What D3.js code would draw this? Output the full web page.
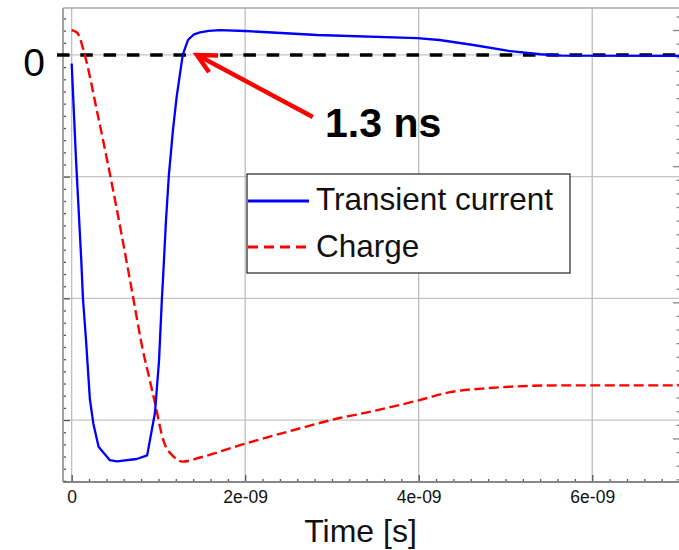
<!DOCTYPE html>
<html><head><meta charset="utf-8">
<script src="https://cdn.jsdelivr.net/npm/d3@7/dist/d3.min.js"></script>
<style>body{margin:0;background:#fff}svg{display:block}</style>
</head><body><svg id="c" width="679" height="550"></svg>
<script>
// ---- data (time in ns, values in arbitrary units) ----
const currentTime  = [0.00,0.05,0.11,0.13,0.165,0.21,0.25,0.31,0.44,0.52,0.75,0.87,0.96,1.007,1.04,1.052,1.087,1.12,1.167,1.21,1.28,1.34,1.41,1.48,1.58,1.71,2.0,2.83,3.98,4.24,4.63,5.02,5.40,5.65,7.0];
const currentValue = [-0.07,-0.86,-1.68,-2.00,-2.34,-2.83,-3.03,-3.22,-3.33,-3.34,-3.32,-3.29,-2.94,-2.51,-2.0,-1.85,-1.36,-0.99,-0.62,-0.345,0.0,0.123,0.17,0.185,0.198,0.205,0.197,0.164,0.138,0.123,0.082,0.035,0.006,-0.006,-0.008];
const chargeTime   = [0,0.03,0.07,0.15,0.29,0.41,0.50,0.65,0.71,0.82,0.90,0.96,1.06,1.17,1.28,1.48,1.99,2.55,3.09,3.32,4.0,4.36,4.82,5.63,7.0];
const chargeValue  = [0,-0.007,-0.025,-0.18,-0.59,-0.96,-1.25,-1.76,-1.97,-2.35,-2.57,-2.74,-3.02,-3.13,-3.17,-3.14,-3.04,-2.94,-2.85,-2.82,-2.72,-2.66,-2.63,-2.61,-2.61];
const xTickValues = [0,2,4,6];
const xTickLabels = ["0","2e-09","4e-09","6e-09"];
const yTickValues = [0,-1,-2,-3];
const yTickLabels = ["0","","",""];
const yRightTickValues = [0,-1,-2,-3];
const seriesNames = ["Transient current","Charge"];
const seriesColors = ["#0000ff","#ff0000"];
const xTitle = "Time [s]";
const annotationText = "1.3 ns";
const arrowTip = [1.445, 0];
const arrowTail = [2.78, -0.51];
const annotationPos = [2.92, -0.674];

// ---- layout ----
const svg = d3.select("#c");
const L=63, R=679, T=8, B=482;
const x  = d3.scaleLinear().domain([-0.1,7]).range([L,R]);
const yL = d3.scaleLinear().domain([-3.509,0.386]).range([B,T]);
const yR = d3.scaleLinear().domain([-3.32,0.162]).range([B,T]);
const FONT = "'Liberation Sans', Arial, Helvetica, sans-serif";

svg.append("rect").attr("width",679).attr("height",550).attr("fill","#fff");
svg.append("clipPath").attr("id","plot").append("rect")
  .attr("x",L).attr("y",T).attr("width",R-L).attr("height",B-T);

// grid
const grid = svg.append("g");
grid.selectAll("line.h").data(yTickValues).join("line")
  .attr("x1",L).attr("x2",R).attr("y1",d=>yL(d)).attr("y2",d=>yL(d))
  .attr("stroke","#c4c4c4").attr("stroke-width",1.3);
grid.selectAll("line.v").data(xTickValues).join("line")
  .attr("y1",T).attr("y2",B).attr("x1",d=>x(d)).attr("x2",d=>x(d))
  .attr("stroke","#bdbdbd").attr("stroke-width",1.3);

// frame lines
svg.append("line").attr("x1",L).attr("x2",R).attr("y1",T).attr("y2",T)
  .attr("stroke","#aaaaaa").attr("stroke-width",1.5);

// bottom axis
const minorX = d3.range(0, 7.01, 0.2).filter(v=>xTickValues.indexOf(Math.round(v*10)/10)<0);
const gxMinor = svg.append("g").attr("transform",`translate(0,${B})`)
  .call(d3.axisBottom(x).tickValues(minorX).tickSize(-3).tickFormat(""));
const gx = svg.append("g").attr("transform",`translate(0,${B})`)
  .call(d3.axisBottom(x).tickValues(xTickValues).tickSize(-7).tickPadding(8.6)
        .tickFormat((d,i)=>xTickLabels[i]));
[gxMinor,gx].forEach(g=>{
  g.select(".domain").remove();
  g.selectAll(".tick line").attr("stroke","#555").attr("stroke-width",1.3);
});
gx.selectAll("text").attr("font-family",FONT).attr("font-size",17.5).attr("fill","#111");
svg.append("line").attr("x1",L).attr("x2",R).attr("y1",B).attr("y2",B)
  .attr("stroke","#888").attr("stroke-width",1.8);

// left axis
const minorY = d3.range(-35,4).map(v=>v/10).filter(v=>Math.abs(v-Math.round(v))>1e-6);
const gyMinor = svg.append("g").attr("transform",`translate(${L},0)`)
  .call(d3.axisLeft(yL).tickValues(minorY).tickSize(-3).tickFormat(""));
const gy = svg.append("g").attr("transform",`translate(${L},0)`)
  .call(d3.axisLeft(yL).tickValues(yTickValues).tickSize(-7).tickPadding(18)
        .tickFormat((d,i)=>yTickLabels[i]));
[gyMinor,gy].forEach(g=>{
  g.select(".domain").remove();
  g.selectAll(".tick line").attr("stroke","#555").attr("stroke-width",1.3);
});
gy.selectAll("text").attr("font-family",FONT).attr("font-size",39).attr("dy","0.52em").attr("fill","#000");
svg.append("line").attr("x1",L).attr("x2",L).attr("y1",T).attr("y2",B)
  .attr("stroke","#999").attr("stroke-width",1.8);

// right axis (charge)
const minorYR = d3.range(-33,2).map(v=>v/10).filter(v=>Math.abs(v-Math.round(v))>1e-6);
const gr1 = svg.append("g").attr("transform",`translate(${R},0)`)
  .call(d3.axisRight(yR).tickValues(minorYR).tickSize(-2.5).tickFormat(""));
const gr2 = svg.append("g").attr("transform",`translate(${R},0)`)
  .call(d3.axisRight(yR).tickValues(yRightTickValues).tickSize(-6).tickFormat(""));
[gr1,gr2].forEach(g=>{
  g.select(".domain").remove();
  g.selectAll(".tick line").attr("stroke","#888").attr("stroke-width",1.3);
});

// zero reference line
svg.append("line")
  .attr("x1",L-6).attr("x2",R).attr("y1",yL(0)).attr("y2",yL(0))
  .attr("stroke","#000").attr("stroke-width",3.5).attr("stroke-dasharray","12.5,10.8");

// series
const plot = svg.append("g").attr("clip-path","url(#plot)");
const lineCurrent = d3.line().x((d,i)=>x(currentTime[i])).y(d=>yL(d));
const lineCharge  = d3.line().x((d,i)=>x(chargeTime[i])).y(d=>yR(d)).curve(d3.curveMonotoneX);
plot.append("path").attr("d",lineCharge(chargeValue)).attr("fill","none")
  .attr("stroke",seriesColors[1]).attr("stroke-width",2.4).attr("stroke-dasharray","10,4.5");
plot.append("path").attr("d",lineCurrent(currentValue)).attr("fill","none")
  .attr("stroke",seriesColors[0]).attr("stroke-width",2.3).attr("stroke-linejoin","round");

// annotation arrow
const tx = x(arrowTip[0]), ty = yL(arrowTip[1]);
const sx = x(arrowTail[0]), sy = yL(arrowTail[1]);
const ang = Math.atan2(sy-ty, sx-tx), wl = 21, wa = 27*Math.PI/180;
const arrow = svg.append("g").attr("stroke","#ff0000").attr("stroke-width",4.5)
  .attr("stroke-linecap","butt").attr("fill","none");
arrow.append("line").attr("x1",sx).attr("y1",sy).attr("x2",tx).attr("y2",ty);
arrow.append("path").attr("stroke-linejoin","miter")
  .attr("d",`M${tx+wl*Math.cos(ang+wa)},${ty+wl*Math.sin(ang+wa)}L${tx},${ty}L${tx+wl*Math.cos(ang-wa)},${ty+wl*Math.sin(ang-wa)}`);
svg.append("text").attr("x",x(annotationPos[0])).attr("y",yL(annotationPos[1]))
  .attr("font-family",FONT).attr("font-weight","bold").attr("font-size",41)
  .attr("fill","#000").text(annotationText);

// legend
const lg = svg.append("g");
lg.append("rect").attr("x",247).attr("y",174).attr("width",323).attr("height",99)
  .attr("fill","#fff").attr("stroke","#222").attr("stroke-width",1.2);
const rows = [{y:201, base:210, dash:null},{y:247, base:257, dash:"10,6"}];
seriesNames.forEach((n,i)=>{
  lg.append("line").attr("x1",248).attr("x2",309).attr("y1",rows[i].y).attr("y2",rows[i].y)
    .attr("stroke",seriesColors[i]).attr("stroke-width",3)
    .attr("stroke-dasharray",rows[i].dash);
  lg.append("text").attr("x",316).attr("y",rows[i].base)
    .attr("font-family",FONT).attr("font-size",31.5).attr("fill","#111").text(n);
});

// x title
svg.append("text").attr("x",(304+417)/2).attr("y",542).attr("text-anchor","middle")
  .attr("font-family",FONT).attr("font-size",32).attr("fill","#111").text(xTitle);
</script></body></html>
